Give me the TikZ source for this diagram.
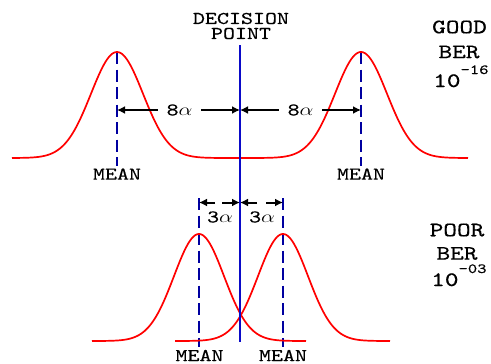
\documentclass[tikz,border=0pt]{standalone}
\usepackage{fontspec}
\setmonofont{lmmono10-regular.otf}[FakeBold=0.4]
\usepackage{graphicx}
\usetikzlibrary{arrows.meta}
\definecolor{dpblue}{RGB}{10,10,200}
\definecolor{meanblue}{RGB}{0,0,160}
\definecolor{curvered}{RGB}{255,0,0}
\newcommand{\wt}[1]{\scalebox{1.27}[1]{#1}}
\begin{document}
\begin{tikzpicture}[x=1pt,y=-1pt,
  curve/.style={curvered, line width=1.7pt, line join=round},
  meanline/.style={meanblue, line width=2.4pt, dash pattern=on 12pt off 5.5pt},
  decline/.style={dpblue, line width=2pt},
  dim/.style={black, line width=2pt, -{Latex[length=8pt,width=8pt]}},
  lbl/.style={font=\ttfamily\fontsize{18}{18}\selectfont, inner sep=0pt},
  big/.style={font=\ttfamily\fontsize{20.5}{20.5}\selectfont, inner sep=0pt}]
\useasboundingbox (0,0) rectangle (491,364);

% coordinates
\coordinate (tL1) at (117,52);  \coordinate (bL1) at (117,166);
\coordinate (tR1) at (361,52);  \coordinate (bR1) at (361,166);
\coordinate (tL2) at (199,198); \coordinate (bL2) at (199,347);
\coordinate (tR2) at (283,198); \coordinate (bR2) at (283,347);
\coordinate (dtop) at (240,45); \coordinate (dbot) at (240,342);

% mean lines
\draw[meanline] (tL1) -- (bL1);
\draw[meanline] (tR1) -- (bR1);
\draw[meanline] (tL2) -- (bL2);
\draw[meanline] (tR2) -- (bR2);

% curves
\draw[curve] plot[domain=12:240, samples=140] (\x,{158-106*exp(-0.5*((\x-117)/26)^2)})
  -- plot[domain=240:468, samples=140] (\x,{158-106*exp(-0.5*((\x-361)/26)^2)});
\draw[curve] plot[domain=92:306, samples=140] (\x,{341-107*exp(-0.5*((\x-199)/25)^2)});
\draw[curve] plot[domain=175:390, samples=140] (\x,{341-107*exp(-0.5*((\x-283)/25)^2)});

% top dimension arrows
\coordinate (mL1) at (117,110); \coordinate (dp1) at (240,110); \coordinate (mR1) at (361,110);
\node[lbl, inner xsep=8.5pt] (l8a) at (179.5,110) {\wt{8$\alpha$}};
\node[lbl, inner xsep=8.5pt] (l8b) at (300.5,110) {\wt{8$\alpha$}};
\draw[dim] (l8a.west) -- (mL1);
\draw[dim] (l8a.east) -- (dp1);
\draw[dim] (l8b.west) -- (dp1);
\draw[dim] (l8b.east) -- (mR1);

% bottom dimension arrows
\coordinate (mL2) at (199,202.5); \coordinate (dp2) at (240,202.5); \coordinate (mR2) at (283,202.5);
\coordinate (g1) at (215,202.5); \coordinate (g2) at (222,202.5);
\coordinate (g3) at (257,202.5); \coordinate (g4) at (266,202.5);
\draw[dim] (g1) -- (mL2);
\draw[dim] (g2) -- (dp2);
\draw[dim] (g3) -- (dp2);
\draw[dim] (g4) -- (mR2);
\node[lbl] (l3a) at (220,217) {\wt{3$\alpha$}};
\node[lbl] (l3b) at (262,217) {\wt{3$\alpha$}};

% decision line
\draw[decline] (dtop) -- (dbot);
\node[lbl, align=center, font=\ttfamily\fontsize{18}{15}\selectfont] (dec) at (241,26) {\wt{DECISION}\\\wt{POINT}};

% mean labels
\node[lbl] (m1) at (117,174) {\wt{MEAN}};
\node[lbl] (m2) at (361,174) {\wt{MEAN}};
\node[lbl] (m3) at (199.5,355.5) {\wt{MEAN}};
\node[lbl] (m4) at (283,355.5) {\wt{MEAN}};

% right side labels
\node[big] (good) at (459.5,27) {\wt{GOOD}};
\node[big] (ber1) at (459,52) {\wt{BER}};
\node[big, anchor=base west] (e1) at (433,87) {\wt{10}\raisebox{13pt}[0pt][0pt]{\fontsize{14}{14}\selectfont\wt{-16}}};
\node[big] (poor) at (457,230) {\wt{POOR}};
\node[big] (ber2) at (457,253.5) {\wt{BER}};
\node[big, anchor=base west] (e2) at (431,286) {\wt{10}\raisebox{13pt}[0pt][0pt]{\fontsize{14}{14}\selectfont\wt{-03}}};
\end{tikzpicture}
\end{document}
